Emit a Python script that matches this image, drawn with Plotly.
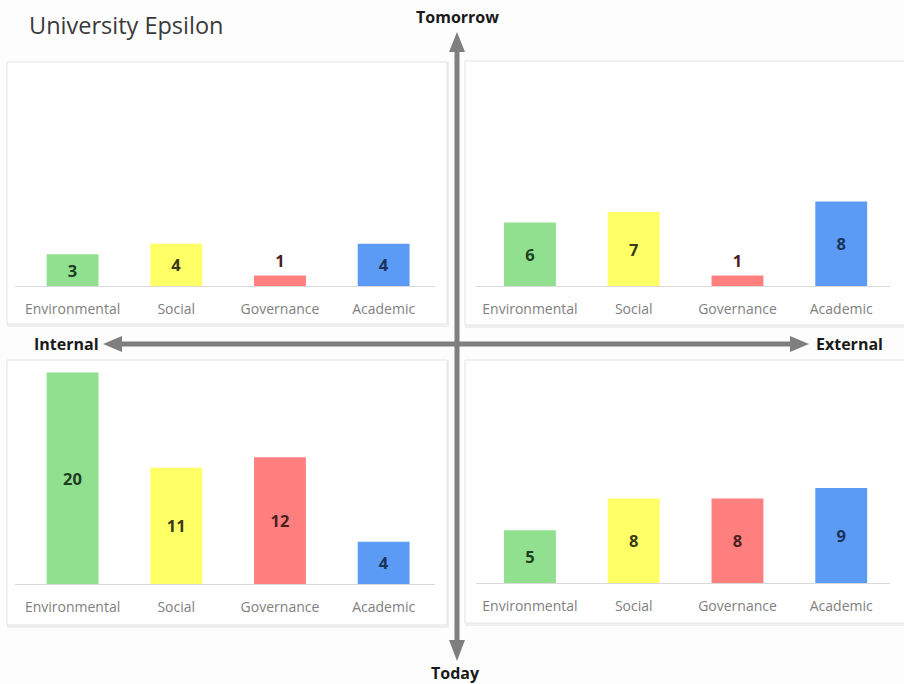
import plotly.graph_objects as go

W, H = 904, 684

categories = ["Environmental", "Social", "Governance", "Academic"]
internal_tomorrow = [3, 4, 1, 4]
external_tomorrow = [6, 7, 1, 8]
internal_today = [20, 11, 12, 4]
external_today = [5, 8, 8, 9]

bar_colors = ["#90e090", "#ffff66", "#ff7f7f", "#5b9bf5"]
text_colors = ["#1f3d1f", "#3a3a14", "#4a1f1f", "#1c3358"]

title_text = "University Epsilon"
axis_top, axis_bottom = "Tomorrow", "Today"
axis_left, axis_right = "Internal", "External"

FONT = "Open Sans"


def fx(px):
    return px / W


def fy(py):
    return 1 - py / H


Y_MAX = 20.5
PX_PER_UNIT = 10.57

# (values, axis suffix, x-line start/end px, baseline px, x range)
panels = [
    (internal_tomorrow, "", 15, 435, 286, [-0.555, 3.495]),
    (external_tomorrow, "2", 476, 890, 286, [-0.52, 3.47]),
    (internal_today, "3", 15, 435, 584, [-0.555, 3.495]),
    (external_today, "4", 476, 890, 583, [-0.52, 3.47]),
]

fig = go.Figure()
layout = {}
for values, sfx, x0, x1, base, xr in panels:
    fig.add_trace(go.Bar(
        x=categories, y=values,
        xaxis="x" + sfx, yaxis="y" + sfx,
        marker=dict(color=bar_colors, line=dict(width=0)),
        text=[str(v) for v in values],
        textposition="auto",
        insidetextanchor="middle",
        textangle=0,
        textfont=dict(family=FONT, size=16.5, color=text_colors, weight="bold"),
        outsidetextfont=dict(family=FONT, size=16.5, color=text_colors, weight="bold"),
        hoverinfo="skip",
        showlegend=False,
        cliponaxis=False,
    ))
    top = base - Y_MAX * PX_PER_UNIT
    layout["xaxis" + sfx] = dict(
        domain=[fx(x0), fx(x1)], anchor="y" + sfx, range=xr,
        showgrid=False, zeroline=False,
        showline=True, linecolor="#d9d9d9", linewidth=1,
        ticks="outside", ticklen=10, tickcolor="rgba(0,0,0,0)",
        tickfont=dict(family=FONT, size=14, color="#808080"),
        fixedrange=True,
    )
    layout["yaxis" + sfx] = dict(
        domain=[fy(base), fy(top)], anchor="x" + sfx, range=[0, Y_MAX],
        visible=False, fixedrange=True,
    )

fig.update_layout(**layout)

shapes = []
# panel cards
for (l, t, r, b) in [(7, 62, 447, 324), (465, 61, 906, 325),
                     (7, 360, 447, 625), (465, 360, 906, 623)]:
    shapes.append(dict(type="rect", xref="paper", yref="paper",
                       x0=fx(l + 1), x1=fx(r + 1), y0=fy(b + 2), y1=fy(t + 1),
                       line=dict(color="#efefef", width=2), fillcolor="#f4f4f4",
                       layer="below"))
    shapes.append(dict(type="rect", xref="paper", yref="paper",
                       x0=fx(l), x1=fx(r), y0=fy(b), y1=fy(t),
                       line=dict(color="#e3e3e3", width=1), fillcolor="#ffffff",
                       layer="below"))

arrow_color = "#7f7f7f"
# vertical axis shaft and heads
shapes.append(dict(type="line", xref="paper", yref="paper",
                   x0=fx(457), x1=fx(457), y0=fy(48), y1=fy(642),
                   line=dict(color=arrow_color, width=5)))
shapes.append(dict(type="path", xref="paper", yref="paper",
                   path=f"M {fx(449)} {fy(52)} L {fx(465)} {fy(52)} L {fx(457)} {fy(32)} Z",
                   fillcolor=arrow_color, line=dict(width=0)))
shapes.append(dict(type="path", xref="paper", yref="paper",
                   path=f"M {fx(449)} {fy(640)} L {fx(465)} {fy(640)} L {fx(457)} {fy(661)} Z",
                   fillcolor=arrow_color, line=dict(width=0)))
# horizontal axis shaft and heads
shapes.append(dict(type="line", xref="paper", yref="paper",
                   x0=fx(118), x1=fx(794), y0=fy(344), y1=fy(344),
                   line=dict(color=arrow_color, width=5)))
shapes.append(dict(type="path", xref="paper", yref="paper",
                   path=f"M {fx(122)} {fy(336)} L {fx(122)} {fy(352)} L {fx(103)} {fy(344)} Z",
                   fillcolor=arrow_color, line=dict(width=0)))
shapes.append(dict(type="path", xref="paper", yref="paper",
                   path=f"M {fx(790)} {fy(336)} L {fx(790)} {fy(352)} L {fx(809)} {fy(344)} Z",
                   fillcolor=arrow_color, line=dict(width=0)))

lbl_font = dict(family=FONT, size=16, color="#1a1a1a", weight="bold")
annotations = [
    dict(text=title_text, x=fx(27), y=fy(25), xanchor="left", yanchor="middle",
         font=dict(family=FONT, size=23.5, color="#3a3a3a")),
    dict(text=axis_top, x=fx(458), y=fy(17), xanchor="center", yanchor="middle", font=lbl_font),
    dict(text=axis_bottom, x=fx(455), y=fy(673), xanchor="center", yanchor="middle", font=lbl_font),
    dict(text=axis_left, x=fx(101), y=fy(344), xanchor="right", yanchor="middle", font=lbl_font),
    dict(text=axis_right, x=fx(814), y=fy(344), xanchor="left", yanchor="middle", font=lbl_font),
]
for a in annotations:
    a.update(xref="paper", yref="paper", showarrow=False)

fig.update_layout(
    width=W, height=H,
    margin=dict(l=0, r=0, t=0, b=0),
    paper_bgcolor="#fdfdfd", plot_bgcolor="rgba(0,0,0,0)",
    bargap=0.5,
    shapes=shapes,
    annotations=annotations,
    uniformtext=dict(minsize=15, mode="show"),
)

fig.write_html("out.html", config=dict(displayModeBar=False))
